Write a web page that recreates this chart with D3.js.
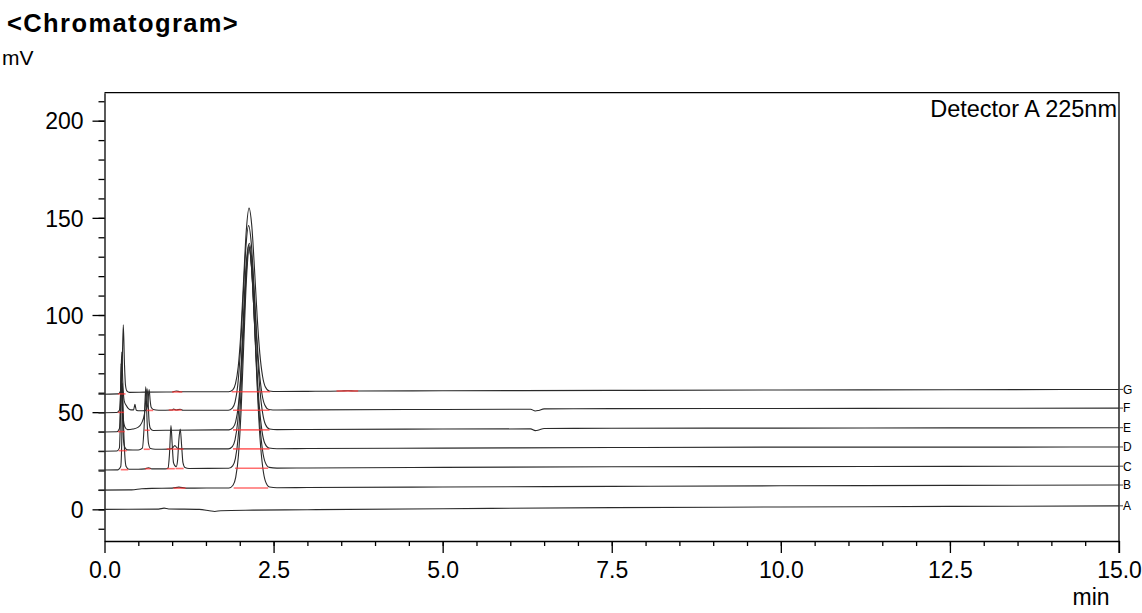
<!DOCTYPE html>
<html>
<head>
<meta charset="utf-8">
<script src="https://cdn.jsdelivr.net/npm/d3@7"></script>
<style>
  body { margin: 0; background: #fff; }
  svg { font-family: "Liberation Sans", Arial, sans-serif; }
</style>
</head>
<body>
<svg id="chart" width="1142" height="613"></svg>
<script>
/*
CHROMATOGRAM: 7 STACKED RUNS, DETECTOR A 225nm
*/

// trace names, bottom to top
const traceNames = ["A", "B", "C", "D", "E", "F", "G"];

// [time (min), signal (mV)]
const traceA = [[0, 0], [0.8, 0.1], [0.88, 0.6], [0.95, 0.2], [1.4, 0], [1.55, -0.7], [1.63, -1.1], [1.72, -0.7],
  [2.2, -0.4], [3, -0.2], [5, 0.3], [7.5, 0.9], [10, 1.2], [12.5, 1.5], [15, 1.8]];

const traceB = [[-0.09, 9.9], [0.4, 10.0], [0.55, 10.6], [0.7, 10.8], [1.0, 10.9], [1.1, 11.4], [1.2, 10.9], [1.8, 11.0],
  [1.84, 11.0], [1.9, 12.4], [1.94, 16.4], [1.98, 27.6], [2.02, 51], [2.06, 86], [2.1, 119], [2.14, 134],
  [2.18, 122], [2.22, 94], [2.26, 61.6], [2.3, 36.3], [2.34, 21.5], [2.38, 14.4], [2.44, 11.5], [2.55, 11.1],
  [3, 11.2], [5, 11.5], [7.5, 11.8], [10, 12.1], [12.5, 12.3], [15, 12.5]];

const traceC = [[-0.09, 20.2], [0.2, 20.3], [0.24, 22], [0.255, 35], [0.265, 65], [0.28, 45], [0.3, 28], [0.32, 22],
  [0.36, 20.6], [0.5, 20.6], [0.6, 20.8], [0.65, 21.4], [0.7, 20.8], [0.9, 20.8], [0.94, 21.3], [0.96, 28],
  [0.983, 43.1], [1.0, 34], [1.02, 24], [1.04, 22.5], [1.06, 22], [1.08, 25], [1.1, 36], [1.12, 41.3],
  [1.14, 33], [1.16, 24], [1.19, 21.5], [1.25, 21], [1.8, 21.1],
  [1.835, 21.1], [1.895, 22.4], [1.935, 26.1], [1.975, 36.5], [2.015, 58.1], [2.055, 90.6], [2.095, 121.1],
  [2.135, 135.1], [2.175, 124.4], [2.215, 97.9], [2.255, 68], [2.295, 44.6], [2.335, 30.8], [2.375, 24.3],
  [2.435, 21.6], [2.55, 21.2], [3, 21.3], [5, 21.6], [7.5, 21.9], [10, 22.0], [12.5, 22.1], [15, 22.2]];

const traceD = [[-0.09, 29.9], [0.18, 30], [0.22, 31.5], [0.235, 45], [0.25, 68], [0.265, 50], [0.28, 36], [0.3, 32],
  [0.34, 30.6], [0.5, 30.5], [0.56, 31.5], [0.585, 42], [0.61, 63], [0.63, 45], [0.65, 34], [0.68, 31.3],
  [0.75, 30.9], [0.95, 31], [1.0, 31.4], [1.04, 32.8], [1.08, 31.4], [1.15, 31.1], [1.8, 31.1],
  [1.83, 31.1], [1.89, 32.3], [1.93, 35.7], [1.97, 45.3], [2.01, 65.1], [2.05, 95.1], [2.09, 123.5],
  [2.13, 136.1], [2.17, 126.1], [2.21, 101.9], [2.25, 74.1], [2.29, 52.7], [2.33, 40], [2.37, 34],
  [2.43, 31.6], [2.55, 31.2], [3, 31.3], [5, 31.5], [7.5, 31.8], [10, 32.0], [12.5, 32.0], [15, 32.1]];

const traceE = [[-0.09, 39.8], [0.18, 39.9], [0.22, 41.5], [0.235, 55], [0.245, 75], [0.26, 58], [0.28, 46], [0.3, 42.5],
  [0.34, 41], [0.42, 41.3], [0.5, 42.3], [0.55, 44.5], [0.59, 49], [0.615, 58], [0.63, 62], [0.645, 55],
  [0.66, 45], [0.68, 41.5], [0.72, 40.6], [1.0, 40.7], [1.8, 40.9],
  [1.84, 40.9], [1.9, 42], [1.94, 45.1], [1.98, 53.9], [2.02, 72.1], [2.06, 99.5], [2.1, 125.4], [2.14, 136.9],
  [2.18, 127.9], [2.22, 105.6], [2.26, 80.4], [2.3, 60.7], [2.34, 49.1], [2.38, 43.6], [2.44, 41.3], [2.55, 41],
  [3, 41.1], [5, 41.3], [6.3, 41.4], [6.37, 40.5], [6.42, 40.8], [6.5, 41.6], [7.5, 41.7], [10, 41.8],
  [12.5, 41.9], [15, 42]];

const traceF = [[-0.09, 49.7], [0.18, 49.8], [0.22, 51], [0.24, 62], [0.255, 81], [0.27, 66], [0.29, 56], [0.32, 53.5],
  [0.35, 52], [0.39, 51.2], [0.43, 51.2], [0.45, 54], [0.47, 51], [0.52, 50.7], [0.6, 50.8], [0.635, 53],
  [0.66, 61.7], [0.675, 56], [0.69, 52.5], [0.72, 51.4], [0.8, 51], [1.0, 51.1], [1.02, 51.6], [1.06, 51.1],
  [1.12, 51.5], [1.16, 51], [1.8, 51],
  [1.83, 51], [1.89, 52.1], [1.93, 55.2], [1.97, 63.8], [2.01, 81.9], [2.05, 109], [2.09, 134.6], [2.13, 146],
  [2.17, 137], [2.21, 115], [2.25, 90], [2.29, 70.6], [2.33, 59.1], [2.37, 53.7], [2.43, 51.4], [2.55, 51.1],
  [3, 51.2], [5, 51.4], [6.3, 51.5], [6.37, 50.6], [6.42, 50.9], [6.5, 51.7], [7.5, 51.8], [10, 51.9],
  [12.5, 52], [15, 52.1]];

const traceG = [[-0.09, 59.2], [0.2, 59.4], [0.24, 61], [0.26, 72], [0.278, 95], [0.295, 75], [0.31, 64], [0.33, 61],
  [0.37, 60.2], [0.6, 60.3], [1.0, 60.4], [1.06, 60.9], [1.12, 60.5], [1.8, 60.5],
  [1.837, 60.5], [1.897, 61.5], [1.937, 64.7], [1.977, 73.3], [2.017, 91.2], [2.057, 118.1], [2.097, 143.7],
  [2.137, 155], [2.177, 146.1], [2.217, 124.2], [2.257, 99.3], [2.297, 80], [2.337, 68.5], [2.377, 63.1],
  [2.437, 60.9], [2.55, 60.6], [3, 60.7], [3.5, 60.9], [3.6, 61.0], [3.7, 60.9], [5, 61], [7.5, 61.2],
  [10, 61.4], [12.5, 61.5], [15, 61.7]];

const traces = [traceA, traceB, traceC, traceD, traceE, traceF, traceG];

// red integration baselines: [start (min), end (min), level (mV)]
const baselinesB = [[1.02, 1.2, 10.9], [1.91, 2.42, 11.0]];
const baselinesC = [[0.24, 0.35, 20.4], [0.6, 0.68, 20.9], [0.92, 1.04, 20.9], [1.05, 1.17, 21.0], [1.93, 2.42, 21.1]];
const baselinesD = [[0.21, 0.33, 30.2], [0.58, 0.67, 30.9], [0.92, 1.17, 31.0], [1.9, 2.44, 31.1]];
const baselinesE = [[0.2, 0.3, 40.0], [0.59, 0.67, 40.7], [1.9, 2.44, 40.9]];
const baselinesF = [[0.2, 0.29, 49.9], [0.62, 0.72, 50.9], [0.95, 1.14, 51.1], [1.9, 2.44, 51.0]];
const baselinesG = [[0.2, 0.31, 59.4], [1.0, 1.15, 60.4], [1.88, 2.45, 60.5], [3.43, 3.75, 60.9]];
const baselines = [[], baselinesB, baselinesC, baselinesD, baselinesE, baselinesF, baselinesG];

const yTickValues = [0, 50, 100, 150, 200];
const xTickValues = [0, 2.5, 5, 7.5, 10, 12.5, 15];
const xTickLabels = ["0.0", "2.5", "5.0", "7.5", "10.0", "12.5", "15.0"];

const chart = d3.select("#chart");
const plotLeft = 104.5, plotRight = 1119, plotTop = 92.7, plotBottom = 541;

const x = d3.scaleLinear().domain([0, 15]).range([plotLeft, plotRight]);
const y = d3.scaleLinear().domain([-16.3, 214.4]).range([plotBottom, plotTop]);

function drawAxes() {
  const fontSize = "23px";

  // frame: top and right
  chart.append("path")
    .attr("d", `M${plotLeft},${plotTop}H${plotRight}V${plotBottom + 12}`)
    .attr("fill", "none")
    .attr("stroke", "#000")
    .attr("stroke-width", 1.3);

  // minor ticks first, so major ones sit on top
  chart.append("g")
    .attr("transform", `translate(0,${plotBottom})`)
    .call(d3.axisBottom(x).tickValues(d3.range(0.5, 15, 0.5)).tickSize(5).tickFormat(""))
    .call((g) => g.select(".domain").remove());

  chart.append("g")
    .attr("transform", `translate(${plotLeft},0)`)
    .call(d3.axisLeft(y).tickValues(d3.range(-10, 211, 10)).tickSize(6).tickFormat(""))
    .call((g) => g.select(".domain").remove());

  const xAxis = chart.append("g")
    .attr("transform", `translate(0,${plotBottom})`)
    .call(d3.axisBottom(x).tickValues(xTickValues).tickSize(12).tickSizeOuter(0).tickPadding(9)
      .tickFormat((d, i) => xTickLabels[i]));

  const yAxis = chart.append("g")
    .attr("transform", `translate(${plotLeft},0)`)
    .call(d3.axisLeft(y).tickValues(yTickValues).tickSize(12).tickSizeOuter(0).tickPadding(9));

  [xAxis, yAxis].forEach((g) => {
    g.selectAll("text").attr("font-size", fontSize).attr("font-family", "'Liberation Sans', Arial, sans-serif").attr("fill", "#000");
    g.selectAll("line, path").attr("stroke", "#000").attr("stroke-width", 1.3);
  });
  yAxis.selectAll("text").attr("dy", "0.36em");

  chart.selectAll(".tick line").attr("stroke", "#000").attr("stroke-width", 1.3);
}

function drawTraces() {
  const line = d3.line()
    .x((d) => x(d[0]))
    .y((d) => y(d[1]))
    .curve(d3.curveMonotoneX);

  chart.append("g")
    .selectAll()
    .data(traces)
    .enter()
    .append("path")
    .attr("d", line)
    .attr("fill", "none")
    .attr("stroke", "#2a2a2a")
    .attr("stroke-width", 1.1);

  // red baseline marks over the traces
  chart.append("g")
    .selectAll()
    .data(baselines.flat())
    .enter()
    .append("line")
    .attr("x1", (d) => x(d[0]))
    .attr("x2", (d) => x(d[1]))
    .attr("y1", (d) => y(d[2]))
    .attr("y2", (d) => y(d[2]))
    .attr("stroke", "#ff3030")
    .attr("stroke-opacity", 0.7)
    .attr("stroke-width", 1.6);

  // trace names at the right end
  const labels = chart.append("g")
    .selectAll()
    .data(traces)
    .enter()
    .append("g")
    .attr("transform", (d) => `translate(${plotRight},${y(d[d.length - 1][1])})`);

  labels.append("line")
    .attr("x1", 0)
    .attr("x2", 4)
    .attr("stroke", "#444")
    .attr("stroke-width", 1);

  labels.append("text")
    .text((d, i) => traceNames[i])
    .attr("x", 4)
    .attr("dy", "0.36em")
    .attr("font-size", "12px")
    .attr("fill", "#000");
}

function drawLabels() {
  chart.append("text")
    .text("<Chromatogram>")
    .attr("x", 7)
    .attr("y", 32)
    .attr("font-size", "25.5px")
    .attr("font-weight", "bold")
    .attr("letter-spacing", "1.4px");

  chart.append("text")
    .text("mV")
    .attr("x", 2)
    .attr("y", 65)
    .attr("font-size", "21px");

  chart.append("text")
    .text("Detector A 225nm")
    .attr("x", plotRight - 2)
    .attr("y", 117)
    .attr("text-anchor", "end")
    .attr("font-size", "23.5px");

  chart.append("text")
    .text("min")
    .attr("x", 1091)
    .attr("y", 605)
    .attr("text-anchor", "middle")
    .attr("font-size", "23px");
}

drawAxes();
drawTraces();
drawLabels();
</script>
</body>
</html>
